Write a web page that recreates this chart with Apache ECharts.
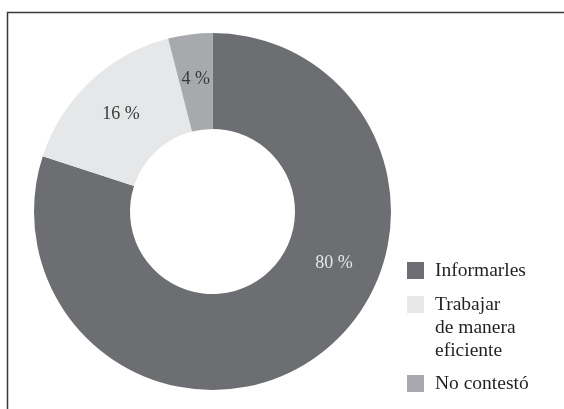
<!DOCTYPE html>
<html>
<head>
<meta charset="utf-8">
<script src="https://cdn.jsdelivr.net/npm/echarts@6/dist/echarts.min.js"></script>
<style>
  html, body { margin: 0; padding: 0; background: #fff; }
  #chart { width: 564px; height: 409px; }
</style>
</head>
<body>
<div id="chart"></div>
<script>
  // datos
  const categories = ['Informarles', 'Trabajar\nde manera\neficiente', 'No contestó'];
  const values = [80, 16, 4];
  const colors = ['#6d6e71', '#e6e7e8', '#a7a9ac'];
  const labelColors = ['#e6e6e6', '#3a3a3a', '#3a3a3a'];

  const serif = '"Liberation Serif", "DejaVu Serif", serif';
  const myChart = echarts.init(document.getElementById('chart'));

  const legendTops = [259, 247, 372];
  const legends = categories.map(function (name, i) {
    return {
      data: [name],
      orient: 'vertical',
      left: 407,
      top: legendTops[i],
      padding: 0,
      itemWidth: 17,
      itemHeight: 17,
      itemGap: 0,
      icon: 'rect',
      selectedMode: false,
      // el icono se alinea con la primera línea del texto
      formatter: function (n) {
        return i === 1 ? '\n\n' + n : n;
      },
      textStyle: {
        fontFamily: serif,
        fontSize: 19.5,
        lineHeight: 23,
        color: '#231f20',
        padding: [0, 0, 0, 6]
      }
    };
  });

  const option = {
    animation: false,
    color: colors,
    legend: legends,
    graphic: [
      {
        type: 'polyline',
        shape: {points: [[7.5, 409], [7.5, 12.5], [564, 12.5]]},
        style: {stroke: '#3a3a3a', lineWidth: 1.5, fill: null}
      }
    ],
    series: [
      {
        type: 'pie',
        center: [212.5, 211.5],
        radius: [82.5, 178.5],
        startAngle: 90,
        clockwise: true,
        avoidLabelOverlap: false,
        label: {
          show: true,
          position: 'inside',
          formatter: '{c} %',
          fontFamily: serif,
          fontSize: 18
        },
        labelLine: {show: false},
        labelLayout: function (params) {
          // la etiqueta del 80 % está desplazada hacia la derecha
          if (params.dataIndex === 0) {
            return {dx: 43, dy: -56};
          }
          return {};
        },
        emphasis: {disabled: true},
        data: categories.map(function (name, i) {
          return {
            name: name,
            value: values[i],
            label: {color: labelColors[i]}
          };
        })
      }
    ]
  };

  myChart.setOption(option);
</script>
</body>
</html>
